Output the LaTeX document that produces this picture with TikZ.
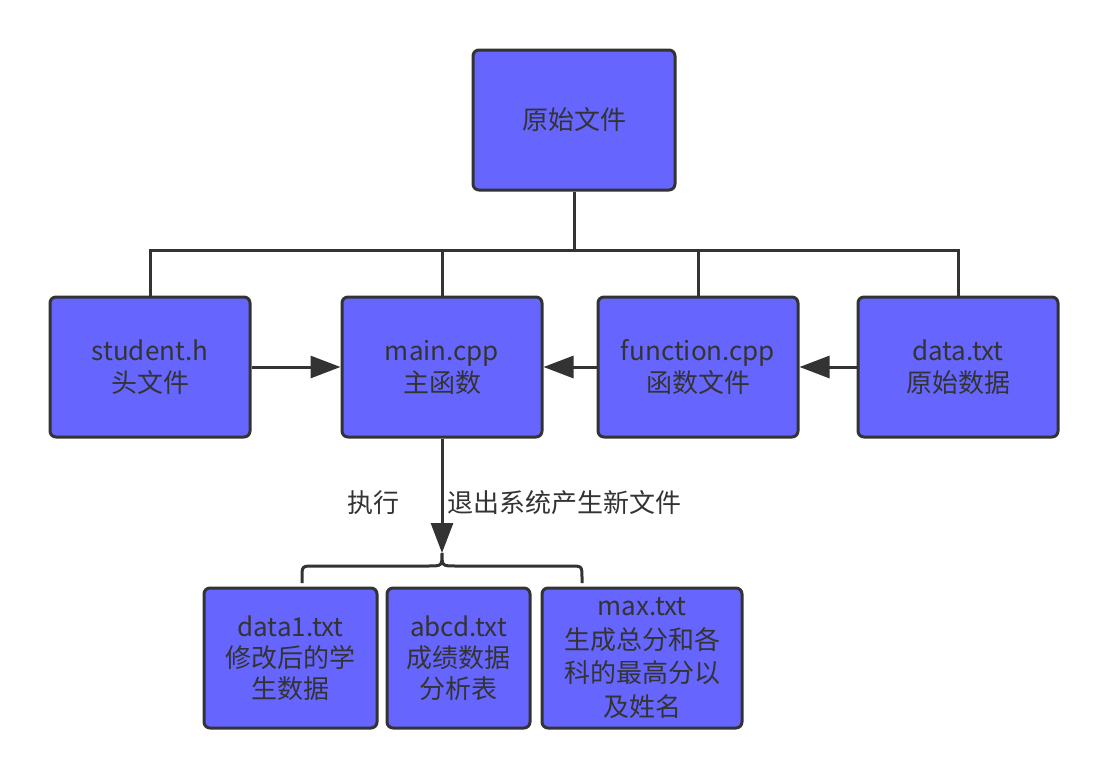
\documentclass[tikz,border=0pt]{standalone}
\usepackage{fontspec}
\setmainfont{Noto Sans CJK SC}
\usetikzlibrary{arrows.meta}
\definecolor{boxfill}{HTML}{6666FF}
\definecolor{ink}{HTML}{333333}
\tikzset{
  box/.style={draw=ink, fill=boxfill, line width=3pt, rounded corners=6pt,
    align=center, text=ink, inner sep=0pt,
    font=\fontsize{26}{32}\selectfont},
  wide/.style={minimum width=200pt, minimum height=140pt},
  conn/.style={draw=ink, line width=3pt},
  arr/.style={conn, -{Triangle[length=30pt,width=22pt]}},
  lbl/.style={text=ink, font=\fontsize{26}{32}\selectfont, inner sep=0pt}
}
\begin{document}
\begin{tikzpicture}[x=1pt,y=-1pt]
\useasboundingbox (0,0) rectangle (1108,779);
\node[box, minimum width=202pt, minimum height=140pt] (top) at (574,120) {原始文件};
\node[box, wide] (student) at (150,367) {student.h\\头文件};
\node[box, wide] (main) at (442,367) {main.cpp\\主函数};
\node[box, wide] (function) at (698,367) {function.cpp\\函数文件};
\node[box, wide] (data) at (958,367) {data.txt\\原始数据};
\node[box, minimum width=173pt, minimum height=140pt, font=\fontsize{26}{31}\selectfont] (d1) at (290.5,658) {data1.txt\\修改后的学\\生数据};
\node[box, minimum width=143pt, minimum height=140pt, font=\fontsize{26}{31}\selectfont] (abcd) at (458.5,658) {abcd.txt\\成绩数据\\分析表};
\node[box, minimum width=200pt, minimum height=140pt, font=\fontsize{26}{33.5}\selectfont] (max) at (642,658) {max.txt\\生成总分和各\\科的最高分以\\及姓名};
\coordinate (bus) at (574,250);
\coordinate (tip) at (442,553);
% tree
\draw[conn] (top.south) -- (bus);
\draw[conn] (student.north) -- (student.north |- bus) -- (data.north |- bus) -- (data.north);
\draw[conn] (main.north) -- (main.north |- bus);
\draw[conn] (function.north) -- (function.north |- bus);
% arrows
\draw[arr] (student.east) -- (main.west);
\draw[arr] (function.west) -- (main.east);
\draw[arr] (data.west) -- (function.east);
\draw[arr] (main.south) -- (tip);
% brace
\draw[conn] (302,583) -- (302,578) .. controls (302,566) .. (314,566) -- (428,566) .. controls (442,566) .. (tip)
  .. controls (442,566) .. (456,566) -- (570,566) .. controls (582,566) .. (582,578) -- (582,583);
\node[lbl] (exec) at (373,503) {执行};
\node[lbl, anchor=west] (quit) at (447,503) {退出系统产生新文件};
\end{tikzpicture}
\end{document}
